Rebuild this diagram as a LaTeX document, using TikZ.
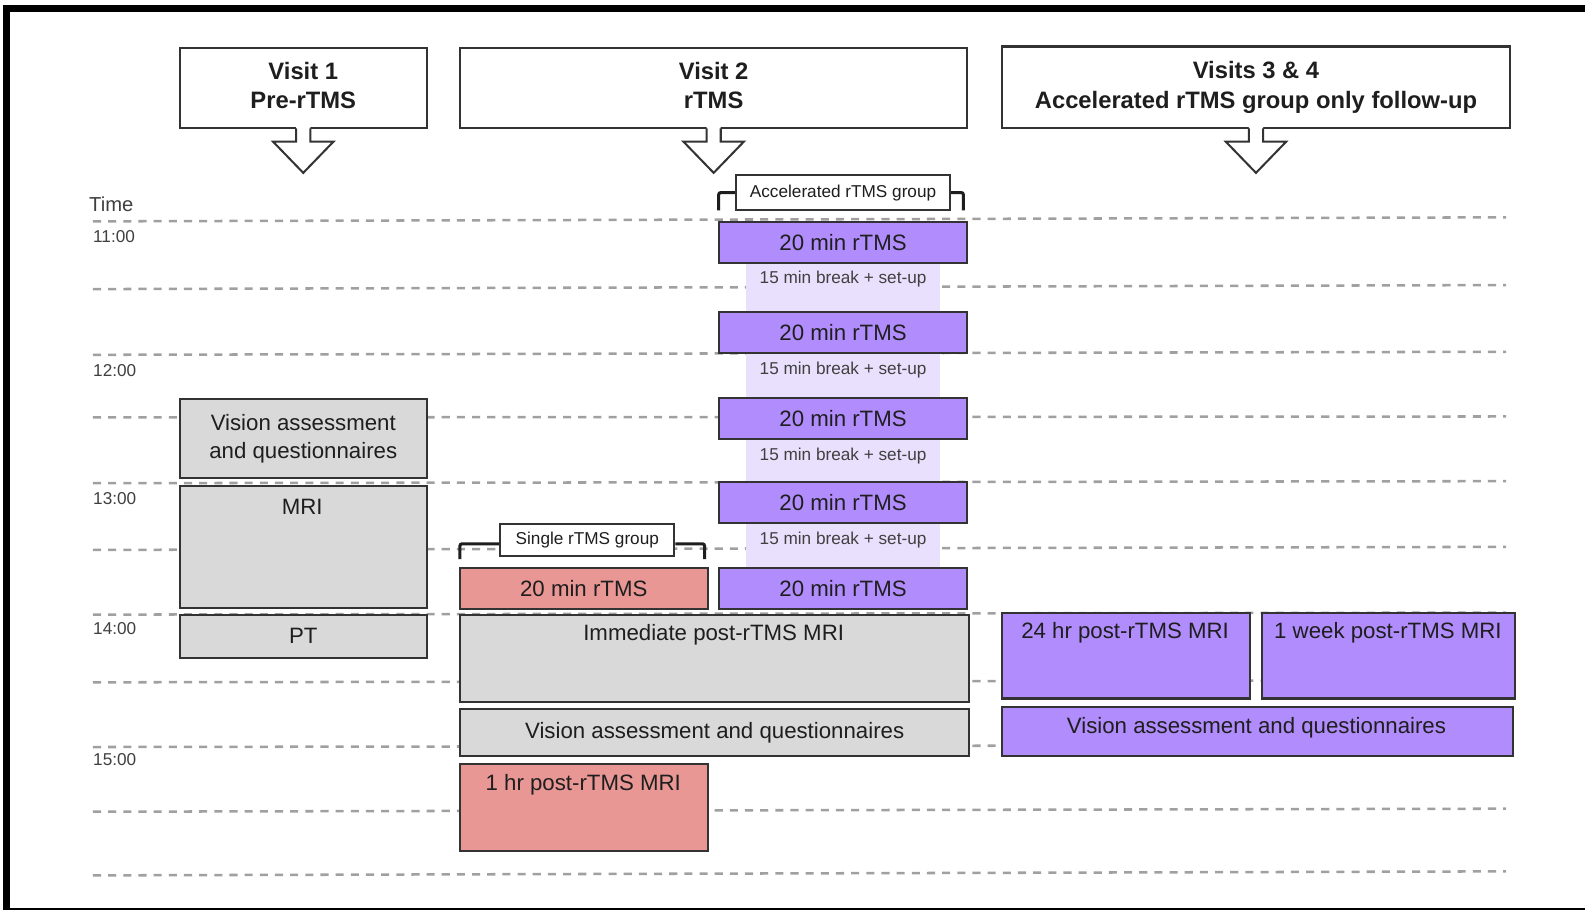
\documentclass[tikz,border=0pt]{standalone}
\usepackage{fontspec}
\setmainfont{Liberation Sans}
\usetikzlibrary{calc}
\definecolor{boxgray}{HTML}{D9D9D9}
\definecolor{purp}{HTML}{B18CFC}
\definecolor{lav}{HTML}{E9E0FD}
\definecolor{salmon}{HTML}{E89795}
\definecolor{edge}{HTML}{333333}
\definecolor{ink}{HTML}{1E1E1E}
\definecolor{gridc}{HTML}{A0A0A0}
\tikzset{
 bx/.style={draw=edge, line width=2pt, anchor=north west, inner sep=0pt, text=ink,
   font=\fontsize{22}{27}\selectfont, align=center},
 hdr/.style={bx, fill=white, font=\bfseries\fontsize{23.5}{29}\selectfont},
 gbx/.style={bx, fill=boxgray},
 pbx/.style={bx, fill=purp},
 rbx/.style={bx, fill=salmon},
 lbl/.style={text=ink, font=\fontsize{22}{27}\selectfont, inner sep=0pt},
 brk/.style={text=ink!85, font=\fontsize{17}{20}\selectfont, inner sep=0pt},
 tagbox/.style={draw=edge, line width=2pt, fill=white, anchor=north west, inner sep=0pt,
   font=\fontsize{17}{20}\selectfont, text=ink},
 gridline/.style={draw=gridc, line width=2.5pt, dash pattern=on 8pt off 7pt},
 bracketline/.style={draw=ink, line width=3pt, rounded corners=2pt},
 tlabel/.style={text=black!75, font=\fontsize{17}{20}\selectfont, anchor=west, inner sep=0pt},
 harrow/.style={draw=edge, line width=2pt, line join=miter},
}
\begin{document}
\begin{tikzpicture}[x=1pt,y=-1pt]
\useasboundingbox (0,0) rectangle (1568,900);
\clip (0,0) rectangle (1568,900);
\fill[white] (0,0) rectangle (1568,900);
% outer frame (right side cut off)
\draw[line width=7pt] (1600,8) -- (6.5,8) -- (6.5,901.5) -- (1600,901.5);

% time grid
\foreach \a/\b in {219/215,286/282,351/348,413/412,478/476,544/541,608/606,675/673,739/737,803/800,866/862}
  \draw[gridline] (92,\a) -- (1490,\b);

% time labels
\node[tlabel, font=\fontsize{20}{22}\selectfont] (time) at (88,202) {Time};
\node[tlabel] (t11) at (92,234) {11:00};
\node[tlabel] (t12) at (92,367) {12:00};
\node[tlabel] (t13) at (92,493) {13:00};
\node[tlabel] (t14) at (92,622) {14:00};
\node[tlabel] (t15) at (92,751) {15:00};

% headers
\node[hdr, minimum width=244pt, minimum height=80pt] (h1) at (177,46) {Visit 1\\Pre-rTMS\vphantom{p}};
\node[hdr, minimum width=502pt, minimum height=80pt] (h2) at (454,46) {Visit 2\\rTMS\vphantom{p}};
\node[hdr, minimum width=503pt, minimum height=81pt] (h3) at (990,45) {Visits 3 \& 4\\Accelerated rTMS group only follow-up};
\foreach \h in {h1,h2,h3}{
  \fill[white] ($(\h.south)+(-7,-3)$) -- ($(\h.south)+(-7,12)$) -- ($(\h.south)+(-30,12)$)
     -- ($(\h.south)+(0,43)$) -- ($(\h.south)+(30,12)$) -- ($(\h.south)+(7,12)$) -- ($(\h.south)+(7,-3)$) -- cycle;
  \draw[harrow] ($(\h.south)+(-7,-1)$) -- ($(\h.south)+(-7,12)$) -- ($(\h.south)+(-30,12)$)
     -- ($(\h.south)+(0,43)$) -- ($(\h.south)+(30,12)$) -- ($(\h.south)+(7,12)$) -- ($(\h.south)+(7,-1)$);
}

% Visit 1
\node[gbx, minimum width=244pt, minimum height=78pt] (v1vis) at (177,394) {Vision assessment\\and questionnaires};
\node[gbx, minimum width=244pt, minimum height=120pt] (v1mri) at (177,480) {};
\node[lbl] (v1mrit) at (299,501) {MRI};
\node[gbx, minimum width=244pt, minimum height=43pt] (v1pt) at (177,607) {PT};

% Visit 2 - accelerated group
\fill[lav] (738,255) rectangle (930,563);
\node[brk] (b1) at (834,276) {15 min break + set-up};
\node[brk] (b2) at (834,366) {15 min break + set-up};
\node[brk] (b3) at (834,451) {15 min break + set-up};
\node[brk] (b4) at (834,534) {15 min break + set-up};
\node[pbx, minimum width=246pt, minimum height=40pt] (r1) at (710,219) {20 min rTMS};
\node[pbx, minimum width=246pt, minimum height=40pt] (r2) at (710,308) {20 min rTMS};
\node[pbx, minimum width=246pt, minimum height=40pt] (r3) at (710,393) {20 min rTMS};
\node[pbx, minimum width=246pt, minimum height=40pt] (r4) at (710,476) {20 min rTMS};
\node[pbx, minimum width=246pt, minimum height=40pt] (r5) at (710,561) {20 min rTMS};
\node[tagbox, minimum width=212pt, minimum height=35pt] (acc) at (727,172) {Accelerated rTMS group};
\draw[bracketline] (711,208) |- (acc.west);
\draw[bracketline] (953,208) |- (acc.east);

% Visit 2 - single group and shared
\node[tagbox, minimum width=172pt, minimum height=32pt] (sgl) at (494,517) {Single rTMS group};
\coordinate (sglL) at (455,553);
\coordinate (sglR) at (697,553);
\draw[bracketline] (sglL) |- ($(sgl.west)+(0,4)$);
\draw[bracketline] (sglR) |- ($(sgl.east)+(0,4)$);
\node[rbx, minimum width=245pt, minimum height=40pt] (s1) at (454,561) {20 min rTMS};
\node[gbx, minimum width=504pt, minimum height=86pt] (imm) at (454,607) {};
\node[lbl] (immt) at (706,628) {Immediate post-rTMS MRI};
\node[gbx, minimum width=504pt, minimum height=47pt] (v2vis) at (454,700) {Vision assessment and questionnaires};
\node[rbx, minimum width=245pt, minimum height=86pt] (hr1) at (454,755) {};
\node[lbl] (hr1t) at (577,776) {1 hr post-rTMS MRI};

% Visits 3 & 4
\node[pbx, minimum width=246pt, minimum height=85pt] (h24) at (990,605) {};
\node[lbl] (h24t) at (1113,626) {24 hr post-rTMS MRI};
\node[pbx, minimum width=251pt, minimum height=85pt] (wk1) at (1247,605) {};
\node[lbl] (wk1t) at (1373,626) {1 week post-rTMS MRI};
\node[pbx, minimum width=506pt, minimum height=49pt] (v3vis) at (990,698) {};
\node[lbl] (v3vist) at (1243,720) {Vision assessment and questionnaires};
\end{tikzpicture}
\end{document}
